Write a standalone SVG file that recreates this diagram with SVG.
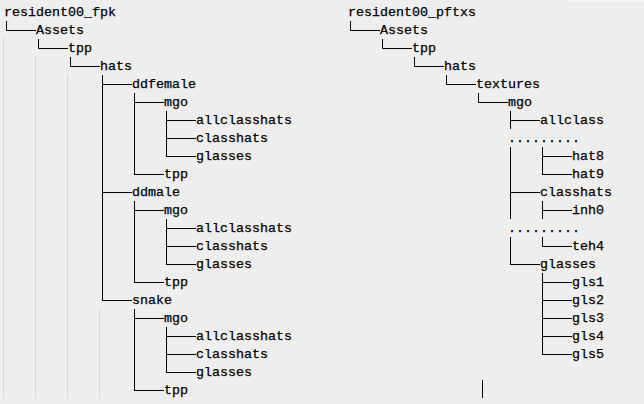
<svg xmlns="http://www.w3.org/2000/svg" width="644" height="404" viewBox="0 0 644 404">
<style>
text{font-family:"Liberation Mono","DejaVu Sans Mono",monospace;font-size:13.33px;fill:#000;stroke:#000;stroke-width:0.25px}
.c path{fill:none;stroke:#000;stroke-width:1}
.g path{fill:none;stroke:#c2c2c2;stroke-width:1;stroke-dasharray:1 1}
</style>
<rect width="644" height="404" fill="#eeeeee"/>
<rect x="569" y="0" width="75" height="1.5" fill="#f6f6f6"/>
<g class="g" id="guides">
<path d="M3.5 39V398M35.5 57V398M67.5 75V398M99.5 309V398"/>
</g>
<g class="c" id="connectors">
<path d="M6.5 21V30.5H36M38.5 39V48.5H68M70.5 57V66.5H100"/>
<path d="M102.5 75V300.5M102 84.5H132M102 192.5H132M102 300.5H132"/>
<path d="M134.5 93V174.5M134 102.5H164M134 174.5H164"/>
<path d="M166.5 111V156.5M166 120.5H196M166 138.5H196M166 156.5H196"/>
<path d="M134.5 201V282.5M134 210.5H164M134 282.5H164"/>
<path d="M166.5 219V264.5M166 228.5H196M166 246.5H196M166 264.5H196"/>
<path d="M134.5 309V390.5M134 318.5H164M134 390.5H164"/>
<path d="M166.5 327V372.5M166 336.5H196M166 354.5H196M166 372.5H196"/>
<path d="M350.5 21V30.5H380M382.5 39V48.5H412M414.5 57V66.5H444M446.5 75V84.5H476M478.5 93V102.5H508"/>
<path d="M510.5 111V129M510.5 147V219M510.5 237V264.5M510 120.5H540M510 192.5H540M510 264.5H540"/>
<path d="M542.5 147V174.5M542 156.5H572M542 174.5H572"/>
<path d="M542.5 201V219M542 210.5H572"/>
<path d="M542.5 237V246.5H572"/>
<path d="M542.5 273V354.5M542 282.5H572M542 300.5H572M542 318.5H572M542 336.5H572M542 354.5H572"/>
<path d="M482.5 380V398"/>
</g>
<g id="n-fpk"><text x="4" y="16">resident00_fpk</text></g>
<g id="n-fpk-assets"><text x="36" y="34">Assets</text></g>
<g id="n-fpk-tpp"><text x="68" y="52">tpp</text></g>
<g id="n-fpk-hats"><text x="100" y="70">hats</text></g>
<g id="n-ddfemale"><text x="132" y="88">ddfemale</text></g>
<g id="n-ddfemale-mgo"><text x="164" y="106">mgo</text></g>
<g id="n-ddfemale-allclasshats"><text x="196" y="124">allclasshats</text></g>
<g id="n-ddfemale-classhats"><text x="196" y="142">classhats</text></g>
<g id="n-ddfemale-glasses"><text x="196" y="160">glasses</text></g>
<g id="n-ddfemale-tpp"><text x="164" y="178">tpp</text></g>
<g id="n-ddmale"><text x="132" y="196">ddmale</text></g>
<g id="n-ddmale-mgo"><text x="164" y="214">mgo</text></g>
<g id="n-ddmale-allclasshats"><text x="196" y="232">allclasshats</text></g>
<g id="n-ddmale-classhats"><text x="196" y="250">classhats</text></g>
<g id="n-ddmale-glasses"><text x="196" y="268">glasses</text></g>
<g id="n-ddmale-tpp"><text x="164" y="286">tpp</text></g>
<g id="n-snake"><text x="132" y="304">snake</text></g>
<g id="n-snake-mgo"><text x="164" y="322">mgo</text></g>
<g id="n-snake-allclasshats"><text x="196" y="340">allclasshats</text></g>
<g id="n-snake-classhats"><text x="196" y="358">classhats</text></g>
<g id="n-snake-glasses"><text x="196" y="376">glasses</text></g>
<g id="n-snake-tpp"><text x="164" y="394">tpp</text></g>
<g id="n-pftxs"><text x="348" y="16">resident00_pftxs</text></g>
<g id="n-pftxs-assets"><text x="380" y="34">Assets</text></g>
<g id="n-pftxs-tpp"><text x="412" y="52">tpp</text></g>
<g id="n-pftxs-hats"><text x="444" y="70">hats</text></g>
<g id="n-textures"><text x="476" y="88">textures</text></g>
<g id="n-tex-mgo"><text x="508" y="106">mgo</text></g>
<g id="n-allclass"><text x="540" y="124">allclass</text></g>
<g id="n-dots1"><text x="508" y="142">.........</text></g>
<g id="n-hat8"><text x="572" y="160">hat8</text></g>
<g id="n-hat9"><text x="572" y="178">hat9</text></g>
<g id="n-classhats"><text x="540" y="196">classhats</text></g>
<g id="n-inh0"><text x="572" y="214">inh0</text></g>
<g id="n-dots2"><text x="508" y="232">.........</text></g>
<g id="n-teh4"><text x="572" y="250">teh4</text></g>
<g id="n-glasses"><text x="540" y="268">glasses</text></g>
<g id="n-gls1"><text x="572" y="286">gls1</text></g>
<g id="n-gls2"><text x="572" y="304">gls2</text></g>
<g id="n-gls3"><text x="572" y="322">gls3</text></g>
<g id="n-gls4"><text x="572" y="340">gls4</text></g>
<g id="n-gls5"><text x="572" y="358">gls5</text></g>
</svg>
